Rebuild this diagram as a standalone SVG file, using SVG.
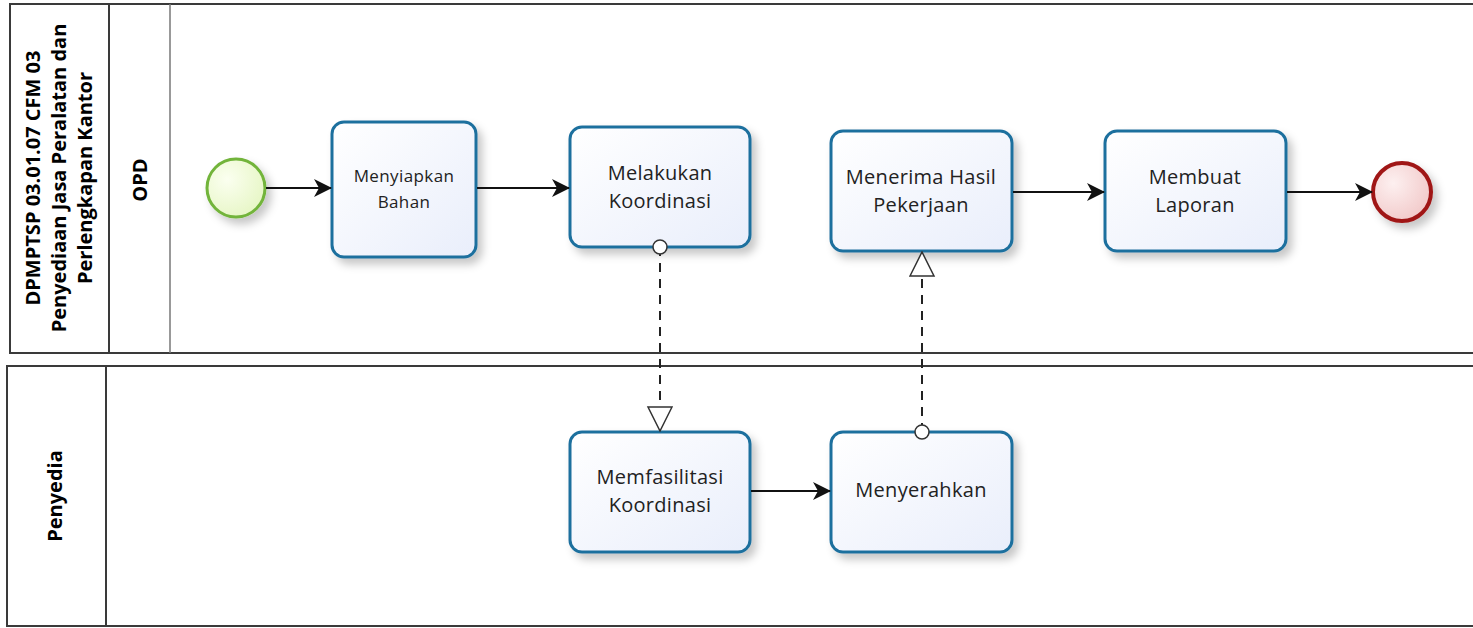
<svg xmlns="http://www.w3.org/2000/svg" width="1473" height="628" viewBox="0 0 1473 628">
<defs>
<linearGradient id="taskFill" x1="0" y1="0" x2="1" y2="1"><stop offset="0" stop-color="#ffffff"/><stop offset="1" stop-color="#e9eefb"/></linearGradient>
<radialGradient id="startFill" cx="0.35" cy="0.35" r="0.8"><stop offset="0" stop-color="#fbfff0"/><stop offset="1" stop-color="#e4f5c0"/></radialGradient>
<radialGradient id="endFill" cx="0.35" cy="0.35" r="0.8"><stop offset="0" stop-color="#fdf0f0"/><stop offset="1" stop-color="#f0c4c4"/></radialGradient>
<filter id="sh" x="-20%" y="-20%" width="150%" height="150%"><feDropShadow dx="5" dy="6" stdDeviation="4" flood-color="#000" flood-opacity="0.22"/></filter>
<marker id="arr" viewBox="0 0 18 18" refX="17" refY="9" markerWidth="18" markerHeight="18" markerUnits="userSpaceOnUse" orient="auto"><path d="M0,0 L18,9 L0,18 L5,9 Z" fill="#111"/></marker>
<marker id="tri" viewBox="0 0 26 32" refX="25" refY="13" markerWidth="26" markerHeight="32" markerUnits="userSpaceOnUse" orient="auto"><path d="M1,1 L25,13 L1,25 Z" fill="#fff" stroke="#333" stroke-width="1.5"/></marker>
<marker id="circ" viewBox="0 0 16 16" refX="8" refY="8" markerWidth="16" markerHeight="16" markerUnits="userSpaceOnUse" orient="auto"><circle cx="8" cy="8" r="7" fill="#fff" stroke="#333" stroke-width="1.5"/></marker>
</defs>
<style>
.pool{fill:#fff;stroke:#3a3a3a;stroke-width:2}
.task rect{fill:url(#taskFill);stroke:#1f6f9e;stroke-width:3;filter:url(#sh)}
.task text{font-family:"Open Sans","Noto Sans",sans-serif;font-size:20px;letter-spacing:0.3px;fill:#222;text-anchor:middle}
.lbl{font-family:"Open Sans","Noto Sans",sans-serif;font-weight:bold;font-size:20px;fill:#000;text-anchor:middle}
.flow{stroke:#111;stroke-width:2;fill:none;marker-end:url(#arr)}
.msg{stroke:#222;stroke-width:2;fill:none;stroke-dasharray:9,7;marker-start:url(#circ);marker-end:url(#tri)}
</style>
<g id="pool-opd">
<rect class="pool" x="10" y="4" width="1475" height="349"/>
<line x1="109" y1="4" x2="109" y2="353" stroke="#3a3a3a" stroke-width="2"/>
<line x1="170" y1="4" x2="170" y2="353" stroke="#777" stroke-width="1.5"/>
<text class="lbl" transform="translate(59,178) rotate(-90)"><tspan x="0" y="-19">DPMPTSP 03.01.07 CFM 03</tspan><tspan x="0" y="7">Penyediaan Jasa Peralatan dan</tspan><tspan x="0" y="33">Perlengkapan Kantor</tspan></text>
<text class="lbl" transform="translate(147,180) rotate(-90)">OPD</text>
</g>
<g id="pool-penyedia">
<rect class="pool" x="7" y="366" width="1478" height="260"/>
<line x1="106" y1="366" x2="106" y2="626" stroke="#3a3a3a" stroke-width="2"/>
<text class="lbl" transform="translate(62,496) rotate(-90)">Penyedia</text>
</g>
<g id="start"><circle cx="236" cy="188" r="29" fill="url(#startFill)" stroke="#72b43a" stroke-width="3" filter="url(#sh)"/></g>
<g id="end"><circle cx="1402" cy="192" r="29" fill="url(#endFill)" stroke="#a01818" stroke-width="4" filter="url(#sh)"/></g>
<g id="t1" class="task"><rect x="332" y="122" width="144" height="135" rx="12"/><text style="font-size:17px;letter-spacing:0.4px"><tspan x="404" y="182">Menyiapkan</tspan><tspan x="404" y="208">Bahan</tspan></text></g>
<g id="t2" class="task"><rect x="570" y="127" width="180" height="120" rx="12"/><text><tspan x="660" y="180">Melakukan</tspan><tspan x="660" y="208">Koordinasi</tspan></text></g>
<g id="t3" class="task"><rect x="831" y="131" width="181" height="120" rx="12"/><text><tspan x="921" y="184">Menerima Hasil</tspan><tspan x="921" y="212">Pekerjaan</tspan></text></g>
<g id="t4" class="task"><rect x="1105" y="131" width="181" height="120" rx="12"/><text><tspan x="1195" y="184">Membuat</tspan><tspan x="1195" y="212">Laporan</tspan></text></g>
<g id="t5" class="task"><rect x="570" y="432" width="180" height="120" rx="12"/><text><tspan x="660" y="484">Memfasilitasi</tspan><tspan x="660" y="512">Koordinasi</tspan></text></g>
<g id="t6" class="task"><rect x="831" y="432" width="181" height="120" rx="12"/><text><tspan x="921" y="497">Menyerahkan</tspan></text></g>
<g id="connectors">
<line class="flow" x1="266" y1="188" x2="331" y2="188"/>
<line class="flow" x1="477" y1="188" x2="569" y2="188"/>
<line class="flow" x1="1013" y1="192" x2="1104" y2="192"/>
<line class="flow" x1="1287" y1="192" x2="1372" y2="192"/>
<line class="flow" x1="751" y1="491" x2="830" y2="491"/>
<line class="msg" x1="660" y1="247" x2="660" y2="431"/>
<line class="msg" x1="922" y1="432" x2="922" y2="252"/>
</g>
</svg>
